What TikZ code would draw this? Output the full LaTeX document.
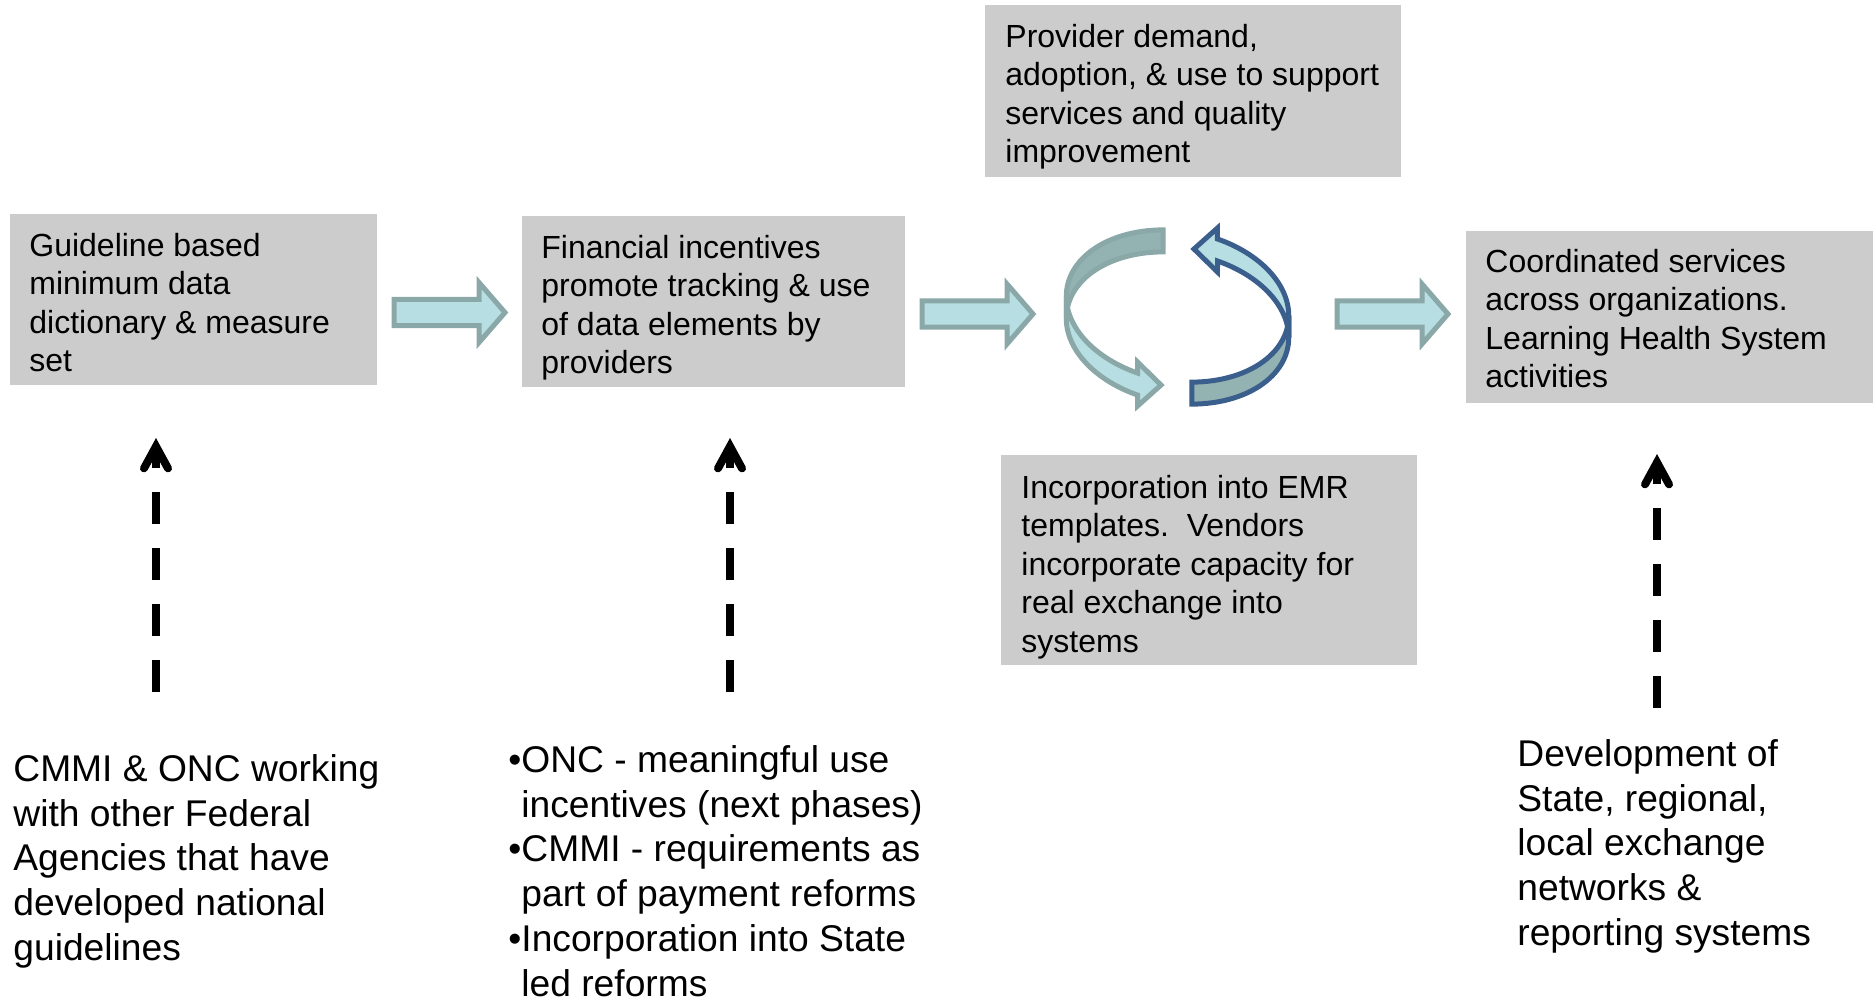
\documentclass[tikz,border=0pt]{standalone}
\usepackage{fontspec}
\setmainfont{Liberation Sans}
\usetikzlibrary{arrows.meta,calc}

\definecolor{boxgray}{HTML}{CCCCCC}
\definecolor{arrowfill}{HTML}{B7DEE2}
\definecolor{arrowline}{HTML}{8BA8A8}
\definecolor{ringdark}{HTML}{93B2B2}
\definecolor{ringblue}{HTML}{3B5F8D}

\tikzset{
  graybox/.style={fill=boxgray, draw=none, inner sep=0pt, outer sep=0pt, anchor=north west},
  boxtxt/.style={anchor=north west, align=left, inner sep=0pt, font=\fontsize{16}{19.25}\selectfont},
  bigtxt/.style={anchor=north west, align=left, inner sep=0pt, font=\fontsize{18.6}{22.4}\selectfont},
  blockline/.style={draw=arrowline, fill=arrowfill, line width=2.5pt, line join=miter},
  pics/blockarrow/.style={code={
    \draw[blockline] (-56,-13.2) -- (29,-13.2) -- (29,-30) -- (55,0)
      -- (29,30) -- (29,13.2) -- (-56,13.2) -- cycle;}},
  dasharrow/.style={line width=4pt, dash pattern=on 16pt off 12pt,
    -{Straight Barb[length=11pt, width=12pt, line cap=round, line join=miter]}},
  ringgray/.style={draw=arrowline, line width=2.5pt, line join=miter},
  ringnavy/.style={draw=ringblue, line width=2.5pt, line join=miter},
}

\begin{document}
\begin{tikzpicture}[x=0.5pt, y=-0.5pt,
  declare function={
    ringX(\t)=1177.5+112*cos(\t)*0.9877-75*sin(\t)*0.1564;
    ringY(\t)=317+112*cos(\t)*0.1564+75*sin(\t)*0.9877;}]
\useasboundingbox (0,0) rectangle (1873,996);

% gray process boxes
\node[graybox, minimum width=183.5pt, minimum height=85.5pt] (b1) at (10,214) {};
\node[graybox, minimum width=191.5pt, minimum height=85.5pt] (b2) at (522,216) {};
\node[graybox, minimum width=208pt, minimum height=86pt] (b3) at (985,5) {};
\node[graybox, minimum width=208pt, minimum height=105pt] (b4) at (1001,455) {};
\node[graybox, minimum width=203.5pt, minimum height=86pt] (b5) at (1466,231) {};

\node[boxtxt] (t1) at ($(b1.north west)+(19,18.7)$)
  {Guideline based\\minimum data\\dictionary \& measure\\set};
\node[boxtxt] (t2) at ($(b2.north west)+(19,18.7)$)
  {Financial incentives\\promote tracking \& use\\of data elements by\\providers};
\node[boxtxt] (t3) at ($(b3.north west)+(20,18.7)$)
  {Provider demand,\\adoption, \& use to support\\services and quality\\improvement};
\node[boxtxt] (t4) at ($(b4.north west)+(20,19.7)$)
  {Incorporation into EMR\\templates.\ \ Vendors\\incorporate capacity for\\real exchange into\\systems};
\node[boxtxt] (t5) at ($(b5.north west)+(19,17.7)$)
  {Coordinated services\\across organizations.\\Learning Health System\\activities};

% supporting activities
\node[bigtxt] (s1) at (13,754)
  {CMMI \& ONC working\\with other Federal\\Agencies that have\\developed national\\guidelines};
\node[bigtxt] (s2) at (508,745)
  {•ONC - meaningful use\\\phantom{•}incentives (next phases)\\•CMMI - requirements as\\\phantom{•}part of payment reforms\\•Incorporation into State\\\phantom{•}led reforms};
\node[bigtxt] (s3) at (1517,739)
  {Development of\\State, regional,\\local exchange\\networks \&\\reporting systems};

% block arrows between the stages
\coordinate (a1) at (450,312.5);
\coordinate (a2) at (978,314);
\coordinate (a3) at (1393,314);
\pic at (a1) {blockarrow};
\pic at (a2) {blockarrow};
\pic at (a3) {blockarrow};

% dashed support arrows
\coordinate (d1s) at (156,692); \coordinate (d1e) at (156,438);
\coordinate (d2s) at (730,692); \coordinate (d2e) at (730,438);
\coordinate (d3s) at (1657,708); \coordinate (d3e) at (1657,454);
\draw[dasharrow] (d1s) -- (d1e);
\draw[dasharrow] (d2s) -- (d2e);
\draw[dasharrow] (d3s) -- (d3e);

% cycle of two curved ribbon arrows
% left arrow, back half
\draw[ringgray, fill=ringdark]
  plot[domain=0:1, samples=30, variable=\u] ({ringX(256.5-82.5*\u)},{ringY(256.5-82.5*\u)-11})
  -- plot[domain=0:1, samples=30, variable=\u] ({ringX(174+82.5*\u)},{ringY(174+82.5*\u)+11})
  -- cycle;
% left arrow, front half with head
\draw[ringgray, fill=arrowfill]
  plot[domain=0:1, samples=30, variable=\u] ({ringX(174-69*\u)},{ringY(174-69*\u)-11})
  -- ({ringX(105)},{ringY(105)-22})
  -- ({ringX(105)+23.5},{ringY(105)+1})
  -- ({ringX(105)},{ringY(105)+22})
  -- plot[domain=0:1, samples=30, variable=\u] ({ringX(105+69*\u)},{ringY(105+69*\u)+11})
  -- cycle;
% right arrow, front half
\draw[ringnavy, fill=ringdark]
  plot[domain=0:1, samples=30, variable=\u] ({ringX(76.5-82.5*\u)},{ringY(76.5-82.5*\u)+11})
  -- plot[domain=0:1, samples=30, variable=\u] ({ringX(-6+82.5*\u)},{ringY(-6+82.5*\u)-11})
  -- cycle;
% right arrow, back half with head
\draw[ringnavy, fill=arrowfill]
  plot[domain=0:1, samples=30, variable=\u] ({ringX(-6-69*\u)},{ringY(-6-69*\u)+11})
  -- ({ringX(-75)},{ringY(-75)+22})
  -- ({ringX(-75)-23.5},{ringY(-75)-1})
  -- ({ringX(-75)},{ringY(-75)-22})
  -- plot[domain=0:1, samples=30, variable=\u] ({ringX(-75+69*\u)},{ringY(-75+69*\u)-11})
  -- cycle;
\end{tikzpicture}
\end{document}
